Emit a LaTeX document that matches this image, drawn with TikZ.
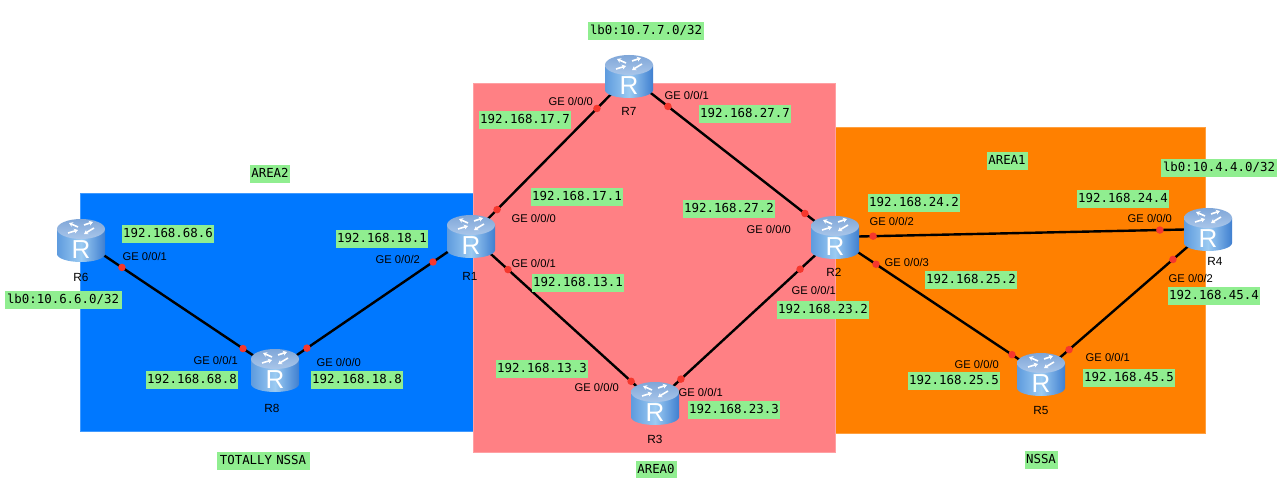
\documentclass[tikz,border=0pt]{standalone}
\usepackage{fontspec}
\setmainfont{Liberation Sans}
\newfontfamily\monof{DejaVu Sans Mono}
\usetikzlibrary{arrows.meta}
\definecolor{areablue}{HTML}{0078FF}
\definecolor{areared}{HTML}{FF8084}
\definecolor{areaorange}{HTML}{FF8000}
\definecolor{labgreen}{HTML}{90EE90}
\definecolor{dotred}{HTML}{F5372D}
\definecolor{iconL}{HTML}{5E9BDE}
\definecolor{iconM}{HTML}{9CCBF2}
\definecolor{iconR}{HTML}{3F7FD0}
\definecolor{iconT}{HTML}{7FA6D8}
\definecolor{iconB}{HTML}{A9C6EA}
\tikzset{
  areabox/.style={draw=#1!75!white,line width=.6pt,fill=#1},
  iplabel/.style={fill=labgreen,inner sep=0pt,minimum height=18pt,text height=9pt,text depth=2pt,yshift=-.7pt,font=\monof\fontsize{12.4}{14}\selectfont,text width=#1,align=center},
  iplabel/.default=92pt,
  portlabel/.style={inner sep=0pt,xshift=.8pt,font=\fontsize{11.2}{12}\selectfont,text=black},
  namelabel/.style={inner sep=0pt,font=\fontsize{11.8}{13}\selectfont,text=black},
  routerbox/.style={circle,minimum size=30pt,inner sep=0pt},
  link/.style={line width=2.4pt,black},
  portdot/.style={circle,fill=dotred,inner sep=0pt,minimum size=7.5pt},
  toparrow/.style={white,line width=1.6pt,-{Stealth[length=4pt,width=5pt]}}
}
\newcommand{\routericon}[1]{%
  \begin{scope}[shift={(#1)}]
    \path[left color=iconL,right color=iconR,middle color=iconM]
      (-24,-11) -- (-24,14) arc[start angle=180,end angle=360,x radius=24pt,y radius=8pt] -- (24,-11) -- cycle;
    \path[top color=iconT,bottom color=iconB]
      (0,-11) ellipse[x radius=24pt,y radius=10pt];
    \draw[toparrow] (-3,-13) -- (-12,-17);
    \draw[toparrow] (-13,-7) -- (-3,-10);
    \draw[toparrow] (3,-15) -- (12,-18);
    \draw[toparrow] (13,-12) -- (3,-6);
    \node[inner sep=0pt,text=white,font=\fontsize{26}{26}\selectfont] at (0,10) {R};
  \end{scope}}
\newcommand{\iplab}[3]{\node[iplabel] (#1) at (#2) {#3};}
\newcommand{\portlab}[3]{\node[portlabel] (#1) at (#2) {#3};}
\newcommand{\namelab}[3]{\node[namelabel] (#1) at (#2) {#3};}
\begin{document}
\begin{tikzpicture}[x=1pt,y=-1pt]
\useasboundingbox (0,0) rectangle (1287,478);
\fill[white] (0,0) rectangle (1287,478);
% areas
\draw[areabox=areablue] (80,193.5) rectangle (473,431);
\draw[areabox=areaorange] (835,127.5) rectangle (1205.5,433);
\draw[areabox=areared] (473.5,83.5) rectangle (835,452);
% routers (anchors)
\node[routerbox] (R6) at (81,240) {};
\node[routerbox] (R8) at (275,370) {};
\node[routerbox] (R1) at (471,236) {};
\node[routerbox] (R7) at (629,76) {};
\node[routerbox] (R2) at (835,237) {};
\node[routerbox] (R3) at (655,403) {};
\node[routerbox] (R4) at (1208,229) {};
\node[routerbox] (R5) at (1041,374) {};
% links
\draw[link] (R6.center) -- node[portdot,pos=.211] (d1) {} node[portdot,pos=.835] (d2) {} (R8.center);
\draw[link] (R8.center) -- node[portdot,pos=.163] (d3) {} node[portdot,pos=.806] (d4) {} (R1.center);
\draw[link] (R1.center) -- node[portdot,pos=.165] (d5) {} node[portdot,pos=.797] (d6) {} (R7.center);
\draw[link] (R7.center) -- node[portdot,pos=.189] (d7) {} node[portdot,pos=.854] (d8) {} (R2.center);
\draw[link] (R1.center) -- node[portdot,pos=.201] (d9) {} node[portdot,pos=.870] (d10) {} (R3.center);
\draw[link] (R3.center) -- node[portdot,pos=.144] (d11) {} node[portdot,pos=.806] (d12) {} (R2.center);
\draw[link] (R2.center) -- node[portdot,pos=.102] (d13) {} node[portdot,pos=.871] (d14) {} (R4.center);
\draw[link] (R2.center) -- node[portdot,pos=.199] (d15) {} node[portdot,pos=.859] (d16) {} (R5.center);
\draw[link] (R5.center) -- node[portdot,pos=.168] (d17) {} node[portdot,pos=.790] (d18) {} (R4.center);
% router icons
\routericon{81,240}
\routericon{275,370}
\routericon{471,236}
\routericon{629,76}
\routericon{835,237}
\routericon{655,403}
\routericon{1208,229}
\routericon{1041,374}
% router names
\namelab{n6}{81,277}{R6}
\namelab{n8}{272,408}{R8}
\namelab{n1}{470,276}{R1}
\namelab{n7}{629,111}{R7}
\namelab{n2}{834,272}{R2}
\namelab{n3}{655,439}{R3}
\namelab{n4}{1215,261}{R4}
\namelab{n5}{1041,410}{R5}
% address labels
\node[iplabel=116pt] (l7) at (646,30) {lb0:10.7.7.0/32};
\node[iplabel=117pt] (l6) at (63,299) {lb0:10.6.6.0/32};
\node[iplabel=116pt] (l4) at (1219,167) {lb0:10.4.4.0/32};
\iplab{a1}{525,119}{192.168.17.7}
\iplab{a2}{745,113}{192.168.27.7}
\iplab{a3}{168,233}{192.168.68.6}
\iplab{a4}{192,379}{192.168.68.8}
\iplab{a5}{357,379}{192.168.18.8}
\iplab{a6}{382,238}{192.168.18.1}
\iplab{a7}{577,196}{192.168.17.1}
\iplab{a8}{578,282}{192.168.13.1}
\iplab{a9}{542,368}{192.168.13.3}
\iplab{a10}{734,409}{192.168.23.3}
\iplab{a11}{729,208}{192.168.27.2}
\iplab{a12}{914,202}{192.168.24.2}
\iplab{a13}{971,279}{192.168.25.2}
\iplab{a14}{823,309}{192.168.23.2}
\iplab{a15}{1123,198}{192.168.24.4}
\iplab{a16}{1214,295}{192.168.45.4}
\iplab{a17}{1129,377}{192.168.45.5}
\iplab{a18}{954,380}{192.168.25.5}
% area labels
\node[iplabel=40pt] (t1) at (270,173) {AREA2};
\node[iplabel=41pt] (t2) at (656,469) {AREA0};
\node[iplabel=41pt] (t3) at (1007,160) {AREA1};
\node[iplabel=33pt] (t4) at (1041,459) {NSSA};
\node[iplabel=93pt] (t5) at (263,460) {TOTALLY NSSA};
% port labels
\portlab{p1}{570,101}{GE 0/0/0}
\portlab{p2}{686,95}{GE 0/0/1}
\portlab{p3}{144,256}{GE 0/0/1}
\portlab{p4}{215,360}{GE 0/0/1}
\portlab{p5}{338,362}{GE 0/0/0}
\portlab{p6}{397,259}{GE 0/0/2}
\portlab{p7}{533,218}{GE 0/0/0}
\portlab{p8}{533,263}{GE 0/0/1}
\portlab{p9}{596,387}{GE 0/0/0}
\portlab{p10}{700,392}{GE 0/0/1}
\portlab{p11}{768,229}{GE 0/0/0}
\portlab{p12}{891,221}{GE 0/0/2}
\portlab{p13}{906,262}{GE 0/0/3}
\portlab{p14}{813,290}{GE 0/0/1}
\portlab{p15}{1149,218}{GE 0/0/0}
\portlab{p16}{1190,278}{GE 0/0/2}
\portlab{p17}{1107,357}{GE 0/0/1}
\portlab{p18}{976,364}{GE 0/0/0}
\end{tikzpicture}
\end{document}
